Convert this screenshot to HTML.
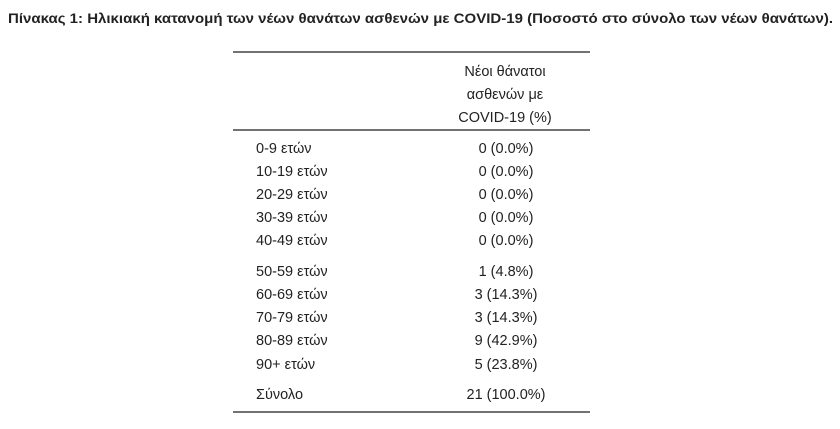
<!DOCTYPE html>
<html><head><meta charset="utf-8"><style>
html,body{margin:0;padding:0;background:#fff;}
svg text{font-family:"Liberation Sans","DejaVu Sans",sans-serif;fill:#222;}
</style></head><body>
<svg width="840" height="424" viewBox="0 0 840 424" xmlns="http://www.w3.org/2000/svg">
<rect width="840" height="424" fill="#fff"/>
<text x="8" y="23" font-size="14" font-weight="bold" fill="#333" textLength="825" lengthAdjust="spacingAndGlyphs">Πίνακας 1: Ηλικιακή κατανομή των νέων θανάτων ασθενών με COVID-19 (Ποσοστό στο σύνολο των νέων θανάτων).</text>
<line x1="233" y1="52" x2="590" y2="52" stroke="#444" stroke-width="1.5"/>
<line x1="233" y1="130" x2="590" y2="130" stroke="#444" stroke-width="1.5"/>
<line x1="233" y1="412" x2="590" y2="412" stroke="#444" stroke-width="1.5"/>
<g font-size="14.5" text-anchor="middle">
<text x="505" y="76">Νέοι θάνατοι</text>
<text x="505" y="99">ασθενών με</text>
<text x="505" y="122">COVID-19 (%)</text>
</g>
<g font-size="14.5">
<text x="256" y="153">0-9 ετών</text>
<text x="256" y="176">10-19 ετών</text>
<text x="256" y="199">20-29 ετών</text>
<text x="256" y="222">30-39 ετών</text>
<text x="256" y="245">40-49 ετών</text>
<text x="256" y="276">50-59 ετών</text>
<text x="256" y="299">60-69 ετών</text>
<text x="256" y="322">70-79 ετών</text>
<text x="256" y="345">80-89 ετών</text>
<text x="256" y="369">90+ ετών</text>
<text x="256" y="399">Σύνολο</text>
</g>
<g font-size="14.5" text-anchor="middle">
<text x="506" y="153">0 (0.0%)</text>
<text x="506" y="176">0 (0.0%)</text>
<text x="506" y="199">0 (0.0%)</text>
<text x="506" y="222">0 (0.0%)</text>
<text x="506" y="245">0 (0.0%)</text>
<text x="506" y="276">1 (4.8%)</text>
<text x="506" y="299">3 (14.3%)</text>
<text x="506" y="322">3 (14.3%)</text>
<text x="506" y="345">9 (42.9%)</text>
<text x="506" y="369">5 (23.8%)</text>
<text x="506" y="399">21 (100.0%)</text>
</g>
</svg>
</body></html>
